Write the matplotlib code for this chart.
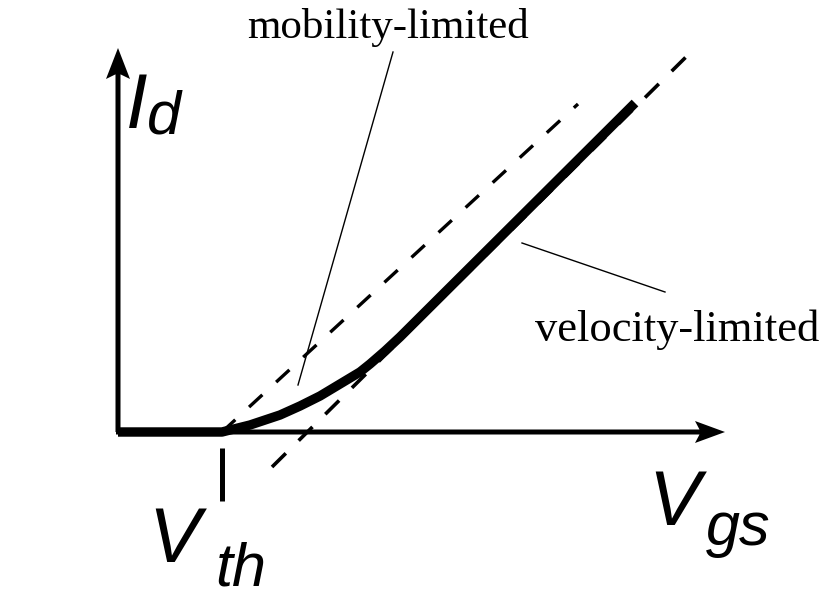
import matplotlib
matplotlib.use('Agg')
import matplotlib.pyplot as plt
from matplotlib.patches import FancyArrow

plt.rcParams['lines.scale_dashes'] = False

# Sketch coordinates: origin at the axis corner, one unit per pixel
vth = 104

# Drain current curve (flat below threshold, then bends onto the velocity line)
vgs_curve = [0, 104, 132, 162, 182, 202, 222, 242, 252, 267, 282, 517]
id_curve = [0, 0, 7, 17, 26, 36, 48, 60, 68, 81, 95, 329]

# Asymptotes
mob_x = [104, 460]
mob_y = [0, 328]
vel_x = [154, 570]
vel_y = [-35, 377]

# Leader lines for the two labels
mob_lead_x = [180, 275]
mob_lead_y = [47, 380]
vel_lead_x = [404, 547]
vel_lead_y = [189, 140]

fig = plt.figure(figsize=(8.35, 5.99), dpi=100)
ax = fig.add_axes([0, 0, 1, 1])
ax.set_xlim(-118, 717)
ax.set_ylim(-167, 432)
ax.axis('off')

# axes with arrow heads
ax.add_patch(FancyArrow(0, 0, 0, 384, width=5, head_width=24, head_length=31,
                        length_includes_head=True, overhang=0.15,
                        fc='black', ec='none'))
ax.add_patch(FancyArrow(-2, 0, 609, 0, width=5, head_width=22, head_length=30,
                        length_includes_head=True, overhang=0.15,
                        fc='black', ec='none'))

# threshold tick below the axis
ax.plot([vth, vth], [-16, -69], color='black', lw=3.6, solid_capstyle='butt')

ax.plot(mob_x, mob_y, color='black', lw=2.4, dashes=(13, 13.5),
        dash_capstyle='butt')
ax.plot(vel_x, vel_y, color='black', lw=2.6, dashes=(14, 13),
        dash_capstyle='butt')

ax.plot(vgs_curve, id_curve, color='black', lw=6.8,
        solid_joinstyle='round', solid_capstyle='butt')

ax.plot(mob_lead_x, mob_lead_y, color='black', lw=1.0)
ax.plot(vel_lead_x, vel_lead_y, color='black', lw=1.0)

serif = 'Liberation Serif'
sans = 'Liberation Sans'
ax.text(270, 394, 'mobility-limited', family=serif, fontsize=31,
        ha='center', va='baseline')
ax.text(559, 91, 'velocity-limited', family=serif, fontsize=32,
        ha='center', va='baseline')

ax.text(8, 304, 'I', family=sans, style='italic', fontsize=56, va='baseline')
ax.text(29, 298, 'd', family=sans, style='italic', fontsize=44, va='baseline')
ax.text(30, -130, 'V', family=sans, style='italic', fontsize=56, va='baseline')
ax.text(97, -153, 'th', family=sans, style='italic', fontsize=44, va='baseline')
ax.text(530, -93, 'V', family=sans, style='italic', fontsize=56, va='baseline')
ax.text(588, -113, 'gs', family=sans, style='italic', fontsize=44, va='baseline')

fig.savefig('out.png', dpi=100)
